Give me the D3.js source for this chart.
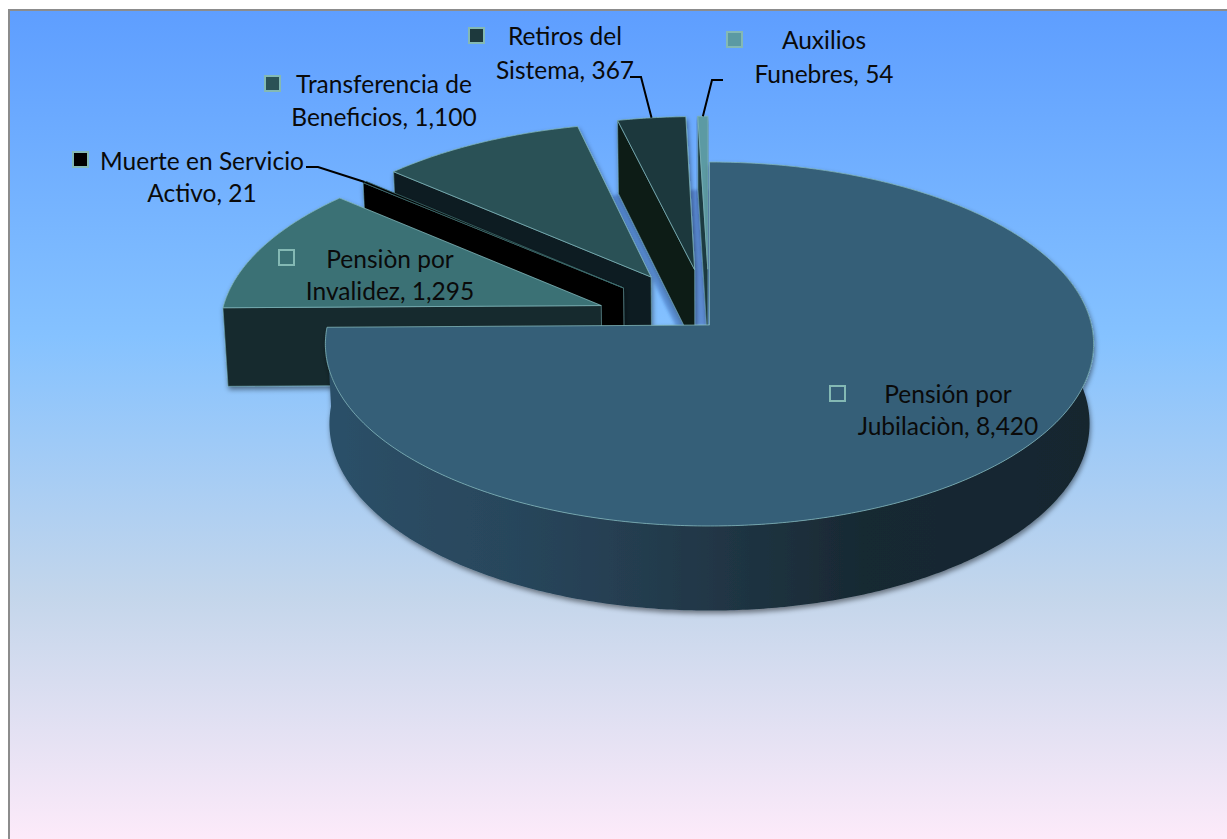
<!DOCTYPE html>
<html lang="en">

<head>
    <meta charset="UTF-8">
    <title>Pie 3D</title>
    <style>
        * {
            margin: 0;
            padding: 0;
        }

        html,
        body {
            overflow: hidden;
            background: #fff;
        }
    </style>
</head>

<body>
    <div id="chart"></div>
    <script src="https://cdn.jsdelivr.net/npm/d3@7"></script>
    <script>
        const categories = ['Pensión por Jubilaciòn', 'Pensiòn por Invalidez', 'Muerte en Servicio Activo',
            'Transferencia de Beneficios', 'Retiros del Sistema', 'Auxilios Funebres']
        const values = [8420, 1295, 21, 1100, 367, 54]
        const valueLabels = ['8,420', '1,295', '21', '1,100', '367', '54']
        const firstLines = ['Pensión por', 'Pensiòn por', 'Muerte en Servicio', 'Transferencia de', 'Retiros del', 'Auxilios']
        const secondLines = ['Jubilaciòn', 'Invalidez', 'Activo', 'Beneficios', 'Sistema', 'Funebres']
        const sliceColors = ['#365e78', '#3b7175', '#000000', '#2a5156', '#1d393d', '#5b9aa3']
        const wallColors = ['#1a2c37', '#182a2e', '#000000', '#101e23', '#0b1a19', '#1c3a40']

        function drawChart() {
            const width = 1227
            const height = 839
            const svg = d3.select('#chart')
                .append('svg')
                .attr('width', width)
                .attr('height', height)
                .style('display', 'block')

            const defs = svg.append('defs')

            const bg = defs.append('linearGradient')
                .attr('id', 'bg')
                .attr('x1', 0).attr('y1', 0).attr('x2', 0).attr('y2', 1)
            bg.selectAll('stop')
                .data([[0, '#5E9EFF'], [0.39, '#85C2FF'], [0.7, '#C4D6EB'], [1, '#FFEBFA']])
                .join('stop')
                .attr('offset', d => d[0])
                .attr('stop-color', d => d[1])

            const rim = defs.append('linearGradient')
                .attr('id', 'rim')
                .attr('gradientUnits', 'userSpaceOnUse')
                .attr('x1', 330).attr('y1', 0).attr('x2', 1090).attr('y2', 0)
            rim.selectAll('stop')
                .data([[0, '#2c5068'], [0.3, '#274358'], [0.45, '#233a4b'], [0.7, '#182933'], [1, '#17262f']])
                .join('stop')
                .attr('offset', d => d[0])
                .attr('stop-color', d => d[1])

            defs.append('filter')
                .attr('id', 'shadow')
                .attr('x', '-10%').attr('y', '-10%').attr('width', '120%').attr('height', '120%')
                .append('feDropShadow')
                .attr('dx', 1).attr('dy', 3)
                .attr('stdDeviation', 2.5)
                .attr('flood-color', '#000')
                .attr('flood-opacity', 0.45)

            defs.append('filter')
                .attr('id', 'soft')
                .append('feGaussianBlur')
                .attr('stdDeviation', 1.5)

            // frame
            svg.append('rect')
                .attr('x', 9).attr('y', 10)
                .attr('width', width).attr('height', height)
                .attr('fill', 'url(#bg)')
                .attr('stroke', '#8c8c8c')
                .attr('stroke-width', 2)

            // ground plane -> screen, back of the pie is smaller than the front
            const cx = 709.5
            const cy = 325
            const persp = 0.1044
            const project = (u, v, bottom) => {
                const w = 1 - persp * v
                return bottom
                    ? [cx + 378 * u / w, cy + 79 + 185 * v / w]
                    : [cx + 382 * u / w, cy + 180 * v / w]
            }

            const explodeX = 0.305
            const explodeY = 0.32
            const pie = d3.pie().sort(null).startAngle(0).endAngle(2 * Math.PI)
            const arcs = pie(values).map((d, i) => {
                const mid = (d.startAngle + d.endAngle) / 2
                return {
                    ...d, i, mid,
                    ox: i === 0 ? 0 : explodeX * Math.sin(mid),
                    oy: i === 0 ? 0 : -explodeY * Math.cos(mid)
                }
            })

            const line = d3.line()
            const at = (d, a, bottom) => project(d.ox + Math.sin(a), d.oy - Math.cos(a), bottom)
            const apex = (d, bottom) => project(d.ox, d.oy, bottom)
            const sweep = (d, from, to) => {
                const n = Math.max(2, Math.ceil(Math.abs(to - from) / 0.01))
                return d3.range(n + 1).map(k => from + (to - from) * k / n)
            }

            // soft shadows thrown on the background by the two slices at the back
            const retiros = arcs[4]
            const cornerLow = at(retiros, retiros.startAngle, true)
            const apexLow = apex(retiros, true)
            const endLow = at(retiros, retiros.endAngle, true)
            const shadows = svg.append('g').attr('filter', 'url(#soft)')
            shadows.append('path')
                .attr('d', line([
                    cornerLow,
                    apexLow,
                    [apexLow[0] - 7, apexLow[1] + 3],
                    [cornerLow[0] - 7, cornerLow[1] + 3]
                ]) + 'Z')
                .attr('fill', '#2f5aa6')
                .attr('opacity', 0.45)
            shadows.append('rect')
                .attr('x', endLow[0] + 4)
                .attr('y', endLow[1])
                .attr('width', cx - endLow[0] - 4)
                .attr('height', cy - endLow[1])
                .attr('fill', '#3f64b0')
                .attr('opacity', 0.55)

            // back slices first, the big one on top of everything
            const order = [5, 4, 3, 2, 1, 0]
            const groups = svg.selectAll('g.slice')
                .data(order.map(i => arcs[i]))
                .join('g')
                .attr('class', 'slice')
                .attr('filter', 'url(#shadow)')

            // outer wall, only the main slice really shows it
            groups.filter(d => d.i === 0).append('path')
                .attr('d', d => {
                    const angles = sweep(d, Math.PI * 0.4, d.endAngle)
                    const top = angles.map(a => at(d, a, false))
                    const low = angles.slice().reverse().map(a => at(d, a, true))
                    return line(top.concat(low)) + 'Z'
                })
                .attr('fill', 'url(#rim)')

            // cut wall from the apex to the start corner
            groups.filter(d => d.i > 0).append('path')
                .attr('d', d => line([
                    apex(d, false),
                    at(d, d.startAngle, false),
                    at(d, d.startAngle, true),
                    apex(d, true)
                ]) + 'Z')
                .attr('fill', d => wallColors[d.i])
                .attr('stroke', '#6fa5aa')
                .attr('stroke-width', 0.6)

            // top face
            groups.append('path')
                .attr('d', d => {
                    const rimPts = sweep(d, d.startAngle, d.endAngle).map(a => at(d, a, false))
                    return line([apex(d, false)].concat(rimPts)) + 'Z'
                })
                .attr('fill', d => sliceColors[d.i])
                .attr('stroke', d => d.i === 2 ? '#3f6e70' : '#7fb4b8')
                .attr('stroke-width', 0.8)

            // leader lines
            const leaderStart = { 2: [306, 167, 318, 167], 4: [630, 77, 641, 77], 5: [723, 80, 712, 80] }
            Object.keys(leaderStart).forEach(k => {
                const d = arcs[k]
                const s = leaderStart[k]
                svg.append('path')
                    .attr('d', line([[s[0], s[1]], [s[2], s[3]], at(d, d.mid, false)]))
                    .attr('fill', 'none')
                    .attr('stroke', '#000')
                    .attr('stroke-width', 2)
            })

            // label anchor: centre x, first baseline, line gap, square x, square y
            const labelPos = [
                [948, 403, 32, 830, 386],
                [390, 268, 31.5, 279, 250],
                [202, 169.5, 32, 73, 152],
                [384, 93, 33, 265, 76],
                [565, 45, 33.5, 469, 28],
                [824, 49, 33.5, 727, 32]
            ]
            const labels = svg.selectAll('g.label')
                .data(arcs)
                .join('g')
                .attr('class', 'label')

            labels.append('rect')
                .attr('x', d => labelPos[d.i][3])
                .attr('y', d => labelPos[d.i][4])
                .attr('width', 15)
                .attr('height', 15)
                .attr('fill', d => sliceColors[d.i])
                .attr('stroke', '#84b9b4')
                .attr('stroke-width', 2)

            const text = labels.append('text')
                .attr('font-family', 'Lato, "Open Sans", sans-serif')
                .attr('font-size', 24.5)
                .attr('fill', '#0a0a0a')
                .attr('text-anchor', 'middle')
            text.append('tspan')
                .attr('x', d => labelPos[d.i][0])
                .attr('y', d => labelPos[d.i][1])
                .text(d => firstLines[d.i])
            text.append('tspan')
                .attr('x', d => labelPos[d.i][0])
                .attr('y', d => labelPos[d.i][1] + labelPos[d.i][2])
                .text(d => secondLines[d.i] + ', ' + valueLabels[d.i])
        }

        drawChart()
    </script>
</body>

</html>
